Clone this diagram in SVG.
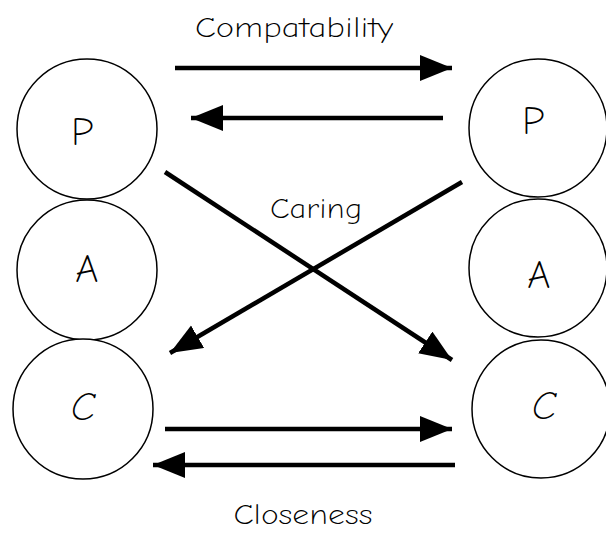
<svg xmlns="http://www.w3.org/2000/svg" width="606" height="533" viewBox="0 0 606 533">
<style>
.node circle{fill:#fff;stroke:#000;stroke-width:1.5}
.node text,.lbl{font-family:"Comic Neue","DejaVu Sans","Liberation Sans",sans-serif;fill:#000;text-anchor:middle;font-weight:300}
.node text{font-size:40px}
.lbl{font-size:28px}
.conn line{stroke:#000;stroke-width:4.5}
</style>
<defs>
<marker id="ah" markerUnits="userSpaceOnUse" markerWidth="34" markerHeight="28" refX="32" refY="13" orient="auto">
<path d="M0,0 L32,13 L0,26 Z" fill="#000"/>
</marker>
</defs>
<rect width="606" height="533" fill="#fff"/>
<g id="leftP" class="node"><circle cx="87" cy="129" r="70"/><text x="82" y="145">P</text></g>
<g id="leftA" class="node"><circle cx="87" cy="270" r="70"/><text x="87" y="282">A</text></g>
<g id="leftC" class="node"><circle cx="83" cy="409" r="70"/><text x="83" y="420" font-style="italic">C</text></g>
<g id="rightP" class="node"><circle cx="538" cy="128" r="69"/><text x="533" y="134">P</text></g>
<g id="rightA" class="node"><circle cx="538" cy="268" r="69"/><text x="539" y="288">A</text></g>
<g id="rightC" class="node"><circle cx="541" cy="409" r="69"/><text x="544" y="419" font-style="italic">C</text></g>
<g class="conn">
<line x1="175" y1="68" x2="452" y2="68" marker-end="url(#ah)"/>
<line x1="443" y1="118" x2="191" y2="118" marker-end="url(#ah)"/>
<line x1="165" y1="172" x2="452" y2="360" marker-end="url(#ah)"/>
<line x1="462" y1="182" x2="170" y2="353" marker-end="url(#ah)"/>
<line x1="165" y1="429" x2="452" y2="429" marker-end="url(#ah)"/>
<line x1="455" y1="465" x2="153" y2="465" marker-end="url(#ah)"/>
</g>
<text class="lbl" x="294" y="37" textLength="198" lengthAdjust="spacingAndGlyphs">Compatability</text>
<text class="lbl" x="316" y="218" textLength="92" lengthAdjust="spacingAndGlyphs">Caring</text>
<text class="lbl" x="303" y="524" textLength="139" lengthAdjust="spacingAndGlyphs">Closeness</text>
</svg>
